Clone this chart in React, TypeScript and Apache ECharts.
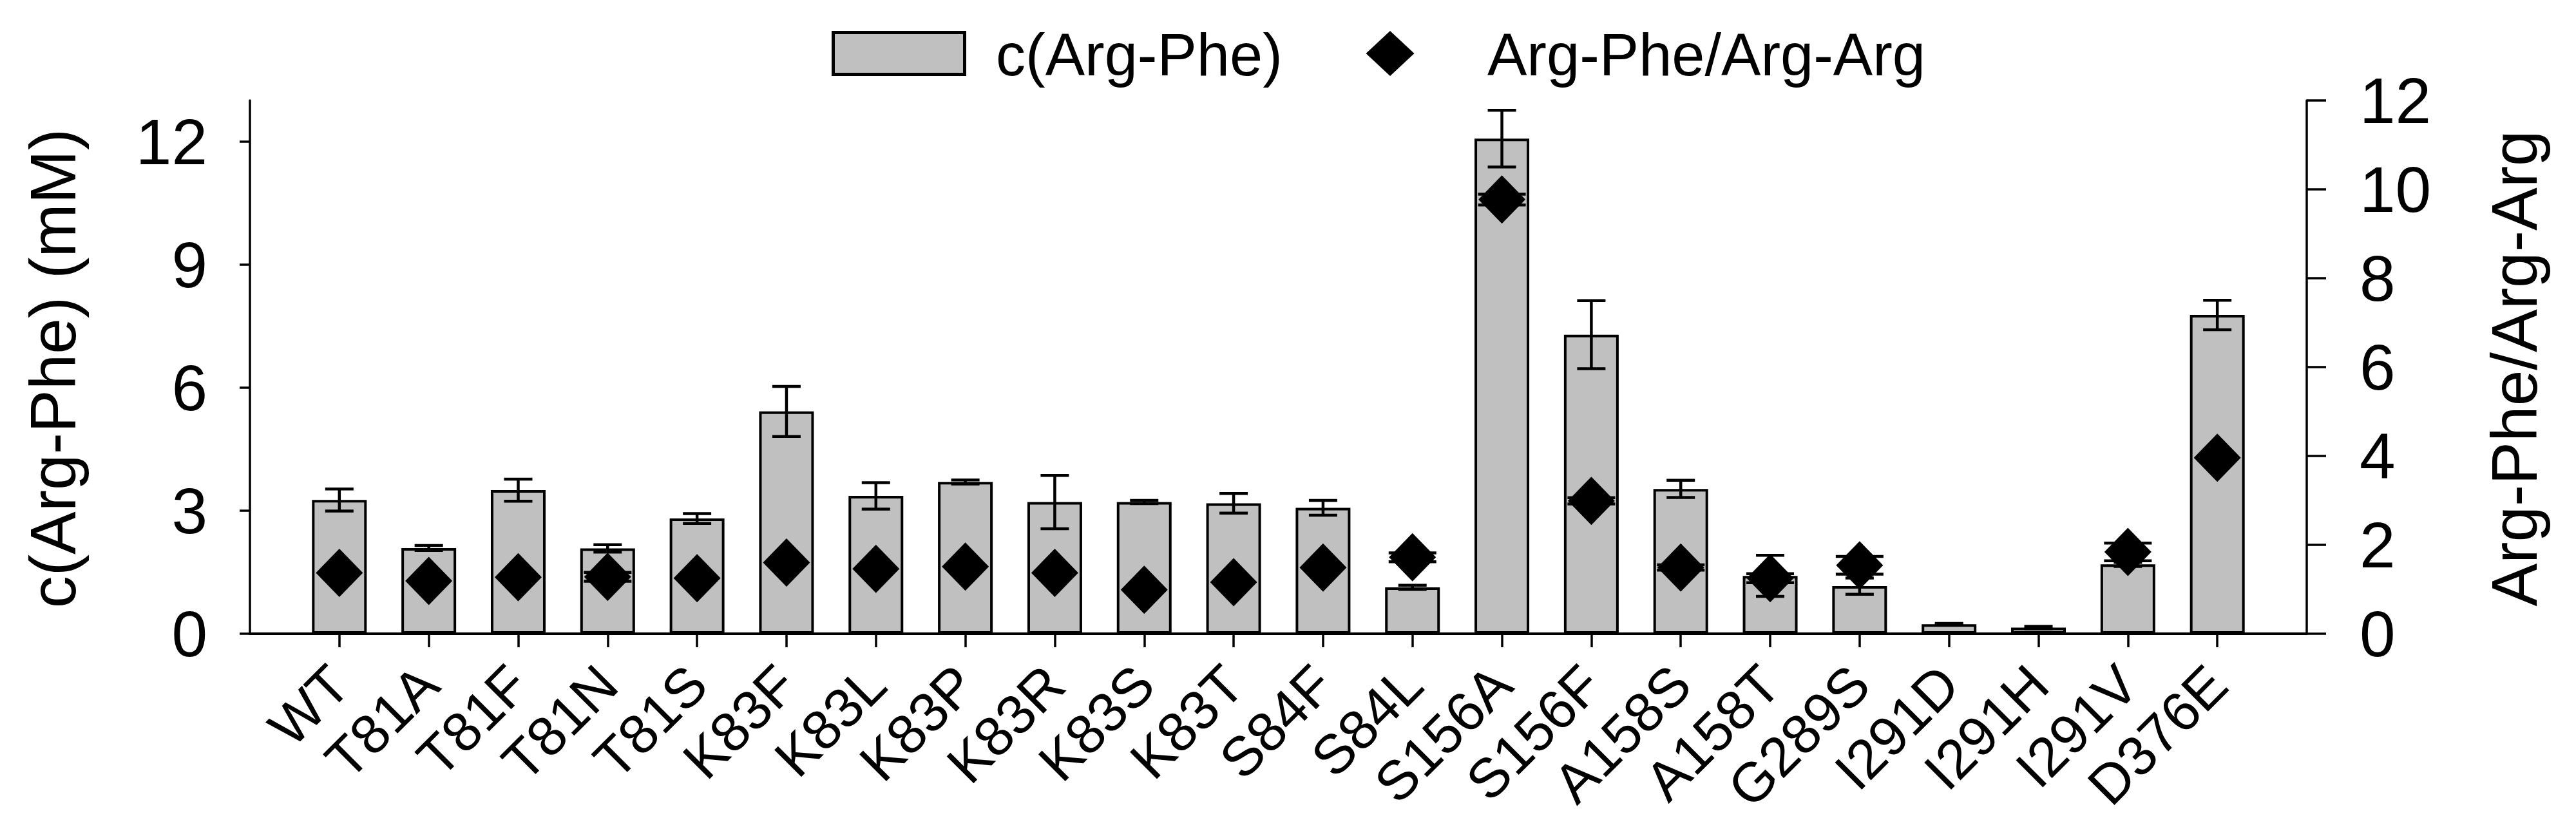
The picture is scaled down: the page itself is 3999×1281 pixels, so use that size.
import React, { useEffect, useRef } from "react";
import * as echarts from "echarts";

const categories = ["WT","T81A","T81F","T81N","T81S","K83F","K83L","K83P","K83R","K83S","K83T","S84F","S84L","S156A","S156F","A158S","A158T","G289S","I291D","I291H","I291V","D376E"];
const concValues = [3.26,2.09,3.50,2.08,2.81,5.42,3.36,3.70,3.21,3.21,3.18,3.07,1.13,12.07,7.29,3.53,1.41,1.16,0.23,0.15,1.69,7.77];
const concErrors = [0.27,0.06,0.27,0.09,0.12,0.61,0.32,0.05,0.65,0.04,0.24,0.18,0.05,0.69,0.83,0.21,0.50,0.20,0.02,0.03,0.05,0.36];
const ratioValues: (number | null)[] = [1.37,1.19,1.27,1.28,1.25,1.60,1.46,1.51,1.37,0.99,1.16,1.49,1.72,9.77,2.99,1.49,1.25,1.54,null,null,1.84,3.96];
const ratioErrors: (number | null)[] = [null,null,null,0.1,null,null,null,null,null,null,null,null,0.1,0.12,0.07,0.06,0.1,0.2,null,null,0.2,null];
const leftTicks = [0, 3, 6, 9, 12];
const rightTicks = [0, 2, 4, 6, 8, 10, 12];
const legendNames = ["c(Arg-Phe)", "Arg-Phe/Arg-Arg"];
const yTitleLeft = "c(Arg-Phe) (mM)";
const yTitleRight = "Arg-Phe/Arg-Arg";

const FONT = "'Liberation Sans', Arial, Helvetica, sans-serif";

export default function App() {
  const ref = useRef<HTMLDivElement>(null);
  useEffect(() => {
    if (!ref.current) return;
    const chart = echarts.init(ref.current, undefined, { renderer: "svg" });
    const paddedCats = ["", ...categories, ""];
    const barData = concValues.map((v, i) => [i + 1, v]);
    const barErr = concValues.map((v, i) => [i + 1, v - concErrors[i], v + concErrors[i]]);
    const scatData: any[] = [];
    const scatErr: any[] = [];
    ratioValues.forEach((v, i) => {
      if (v == null) return;
      scatData.push([i + 1, v]);
      const e = ratioErrors[i];
      if (e != null) scatErr.push([i + 1, v - e, v + e]);
    });
    const errRender = (capW: number, lw: number) => (params: any, api: any) => {
      const x = api.value(0);
      const lo = api.value(1);
      const hi = api.value(2);
      const pHi = api.coord([x, hi]);
      const pLo = api.coord([x, lo]);
      const w = capW / 2;
      const st = { stroke: "#000", lineWidth: lw };
      return {
        type: "group",
        children: [
          { type: "line", shape: { x1: pHi[0], y1: pHi[1], x2: pLo[0], y2: pLo[1] }, style: st },
          { type: "line", shape: { x1: pHi[0] - w, y1: pHi[1], x2: pHi[0] + w, y2: pHi[1] }, style: st },
          { type: "line", shape: { x1: pLo[0] - w, y1: pLo[1], x2: pLo[0] + w, y2: pLo[1] }, style: st },
        ],
      };
    };
    const option: any = {
      animation: false,
      backgroundColor: "#fff",
      textStyle: { fontFamily: FONT, color: "#000" },
      grid: { left: 388, right: 418, top: 156, bottom: 297, containLabel: false },
      xAxis: {
        type: "category",
        data: paddedCats,
        boundaryGap: false,
        axisLine: { lineStyle: { color: "#000", width: 4 } },
        axisTick: {
          length: 21,
          lineStyle: { color: "#000", width: 3.5 },
          interval: (idx: number) => idx > 0 && idx < paddedCats.length - 1,
        },
        axisLabel: {
          rotate: 45,
          interval: 0,
          margin: 64,
          fontSize: 86,
          fontFamily: FONT,
          color: "#000",
        },
        splitLine: { show: false },
      },
      yAxis: [
        {
          type: "value",
          min: 0,
          max: 13,
          interval: 3,
          position: "left",
          axisLine: { show: true, lineStyle: { color: "#000", width: 3.5 } },
          axisTick: { show: true, length: 16, lineStyle: { color: "#000", width: 3.5 }, customValues: leftTicks },
          axisLabel: { fontSize: 100, margin: 66, color: "#000", fontFamily: FONT, customValues: leftTicks },
          splitLine: { show: false },
        },
        {
          type: "value",
          min: 0,
          max: 12,
          interval: 2,
          position: "right",
          axisLine: { show: true, lineStyle: { color: "#000", width: 3.5 } },
          axisTick: { show: true, length: 30, lineStyle: { color: "#000", width: 3.5 }, customValues: rightTicks },
          axisLabel: { fontSize: 100, margin: 82, color: "#000", fontFamily: FONT, customValues: rightTicks },
          splitLine: { show: false },
        },
      ],
      graphic: [
        {
          type: "rect",
          shape: { x: 1293.5, y: 50.5, width: 204, height: 65 },
          style: { fill: "#c0c0c0", stroke: "#000", lineWidth: 5 },
        },
        {
          type: "text",
          x: 1546,
          y: 85,
          style: { text: legendNames[0], fontSize: 92, fontFamily: FONT, fill: "#000", align: "left", verticalAlign: "middle" },
        },
        {
          type: "polygon",
          shape: { points: [[2158, 48], [2195.5, 83], [2158, 118], [2120.5, 83]] },
          style: { fill: "#000" },
        },
        {
          type: "text",
          x: 2309,
          y: 85,
          style: { text: legendNames[1], fontSize: 92, fontFamily: FONT, fill: "#000", align: "left", verticalAlign: "middle" },
        },
        {
          type: "text",
          x: 82,
          y: 572,
          rotation: Math.PI / 2,
          style: { text: yTitleLeft, fontSize: 100, fontFamily: FONT, fill: "#000", align: "center", verticalAlign: "middle" },
        },
        {
          type: "text",
          x: 3903,
          y: 572,
          rotation: Math.PI / 2,
          style: { text: yTitleRight, fontSize: 100, fontFamily: FONT, fill: "#000", align: "center", verticalAlign: "middle" },
        },
      ],
      series: [
        {
          name: legendNames[0],
          type: "bar",
          xAxisIndex: 0,
          yAxisIndex: 0,
          data: barData,
          barWidth: 85,
          itemStyle: { color: "#c0c0c0", borderColor: "#000", borderWidth: 4 },
          z: 2,
        },
        {
          type: "custom",
          xAxisIndex: 0,
          yAxisIndex: 0,
          data: barErr,
          encode: { x: 0, y: [1, 2] },
          renderItem: errRender(44, 4.5),
          z: 3,
        },
        {
          type: "custom",
          xAxisIndex: 0,
          yAxisIndex: 1,
          data: scatErr,
          encode: { x: 0, y: [1, 2] },
          renderItem: errRender(74, 4.5),
          z: 4,
        },
        {
          name: legendNames[1],
          type: "scatter",
          xAxisIndex: 0,
          yAxisIndex: 1,
          data: scatData,
          symbol: "diamond",
          symbolSize: [73, 75],
          itemStyle: { color: "#000", opacity: 1 },
          z: 5,
        },
      ],
    };
    chart.setOption(option);
    return () => chart.dispose();
  }, []);
  return (
    <div
      ref={ref}
      style={{ position: "fixed", left: 0, top: 0, width: 3999, height: 1281, background: "#fff" }}
    />
  );
}
